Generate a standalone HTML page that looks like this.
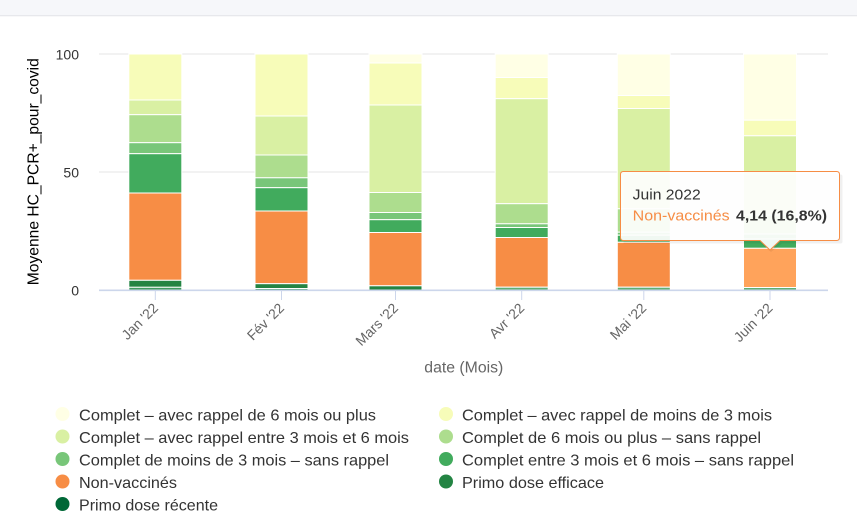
<!DOCTYPE html>
<html><head><meta charset="utf-8"><style>
html,body{margin:0;padding:0;background:#fff;}
svg{display:block;}
text{font-family:"Liberation Sans",sans-serif;}
</style></head><body>
<svg width="857" height="527" viewBox="0 0 857 527" xmlns="http://www.w3.org/2000/svg">
<rect x="0" y="0" width="857" height="527" fill="#fff"/>
<rect x="0" y="0" width="857" height="15.5" fill="#f6f7fa"/>
<line x1="0" y1="15.8" x2="857" y2="15.8" stroke="#e2e4e8" stroke-width="1"/>

<!-- grid -->
<line x1="99" y1="54" x2="828" y2="54" stroke="#e6e6e6" stroke-width="1"/>
<line x1="99" y1="172" x2="828" y2="172" stroke="#e6e6e6" stroke-width="1"/>

<!-- y labels -->
<text x="79" y="59.5" font-size="14" fill="#333" text-anchor="end">100</text>
<text x="79" y="177.5" font-size="14" fill="#333" text-anchor="end">50</text>
<text x="79" y="295.5" font-size="14" fill="#333" text-anchor="end">0</text>
<text transform="translate(38.5,171.7) rotate(-90)" font-size="16" fill="#000" text-anchor="middle" textLength="227" lengthAdjust="spacingAndGlyphs">Moyenne HC_PCR+_pour_covid</text>

<g stroke="#fff" stroke-width="1">
<!-- Jan -->
<rect x="128.8" y="54" width="53" height="46" fill="#f7fcb9"/>
<rect x="128.8" y="100" width="53" height="14.7" fill="#d9f0a3"/>
<rect x="128.8" y="114.7" width="53" height="28" fill="#addd8e"/>
<rect x="128.8" y="142.7" width="53" height="11" fill="#78c679"/>
<rect x="128.8" y="153.7" width="53" height="39.3" fill="#41ab5d"/>
<rect x="128.8" y="193" width="53" height="87.3" fill="#f78d45"/>
<rect x="128.8" y="280.3" width="53" height="7" fill="#238443"/>
<rect x="128.8" y="287.3" width="53" height="2.7" fill="#3f9a60"/>
<!-- Fev -->
<rect x="255" y="54" width="53" height="62" fill="#f7fcb9"/>
<rect x="255" y="116" width="53" height="39" fill="#d9f0a3"/>
<rect x="255" y="155" width="53" height="22.8" fill="#addd8e"/>
<rect x="255" y="177.8" width="53" height="9.9" fill="#78c679"/>
<rect x="255" y="187.7" width="53" height="23.3" fill="#41ab5d"/>
<rect x="255" y="211" width="53" height="72.7" fill="#f78d45"/>
<rect x="255" y="283.7" width="53" height="4.8" fill="#238443"/>
<rect x="255" y="288.5" width="53" height="1.5" fill="#3f9a60"/>
<!-- Mars -->
<rect x="369" y="54" width="53" height="9" fill="#ffffe5"/>
<rect x="369" y="63" width="53" height="42" fill="#f7fcb9"/>
<rect x="369" y="105" width="53" height="87.5" fill="#d9f0a3"/>
<rect x="369" y="192.5" width="53" height="20" fill="#addd8e"/>
<rect x="369" y="212.5" width="53" height="7.2" fill="#78c679"/>
<rect x="369" y="219.7" width="53" height="12.8" fill="#41ab5d"/>
<rect x="369" y="232.5" width="53" height="53.3" fill="#f78d45"/>
<rect x="369" y="285.8" width="53" height="4.2" fill="#238443"/>
<!-- Avr -->
<rect x="495.2" y="54" width="53" height="23.5" fill="#ffffe5"/>
<rect x="495.2" y="77.5" width="53" height="21.2" fill="#f7fcb9"/>
<rect x="495.2" y="98.7" width="53" height="105" fill="#d9f0a3"/>
<rect x="495.2" y="203.7" width="53" height="20.1" fill="#addd8e"/>
<rect x="495.2" y="223.8" width="53" height="3.7" fill="#78c679"/>
<rect x="495.2" y="227.5" width="53" height="10" fill="#41ab5d"/>
<rect x="495.2" y="237.5" width="53" height="49.7" fill="#f78d45"/>
<rect x="495.2" y="287.2" width="53" height="2.8" fill="#5fae76"/>
<!-- Mai -->
<rect x="617.3" y="54" width="53" height="41.5" fill="#ffffe5"/>
<rect x="617.3" y="95.5" width="53" height="13" fill="#f7fcb9"/>
<rect x="617.3" y="108.5" width="53" height="100.3" fill="#d9f0a3"/>
<rect x="617.3" y="208.8" width="53" height="23.4" fill="#addd8e"/>
<rect x="617.3" y="232.2" width="53" height="3" fill="#78c679"/>
<rect x="617.3" y="235.2" width="53" height="7.1" fill="#41ab5d"/>
<rect x="617.3" y="242.3" width="53" height="44.9" fill="#f78d45"/>
<rect x="617.3" y="287.2" width="53" height="2.8" fill="#5fae76"/>
<!-- Juin -->
<rect x="743.5" y="54" width="53" height="66.2" fill="#ffffe5"/>
<rect x="743.5" y="120.2" width="53" height="15.6" fill="#f7fcb9"/>
<rect x="743.5" y="135.8" width="53" height="79.2" fill="#d9f0a3"/>
<rect x="743.5" y="215" width="53" height="19" fill="#addd8e"/>
<rect x="743.5" y="234" width="53" height="5" fill="#78c679"/>
<rect x="743.5" y="239" width="53" height="9.3" fill="#41ab5d"/>
<rect x="743.5" y="248.3" width="53" height="39.2" fill="#ffa35b"/>
<rect x="743.5" y="287.5" width="53" height="2.5" fill="#5fae76"/>
</g>

<!-- x axis -->
<line x1="99" y1="290.3" x2="828" y2="290.3" stroke="#ccd6eb" stroke-width="1.6"/>
<g stroke="#ccd6eb" stroke-width="1">
<line x1="155.3" y1="290" x2="155.3" y2="300"/>
<line x1="281.5" y1="290" x2="281.5" y2="300"/>
<line x1="395.5" y1="290" x2="395.5" y2="300"/>
<line x1="521.7" y1="290" x2="521.7" y2="300"/>
<line x1="643.8" y1="290" x2="643.8" y2="300"/>
<line x1="770" y1="290" x2="770" y2="300"/>
</g>
<g font-size="14" fill="#666" text-anchor="end">
<text transform="translate(159,309) rotate(-45)">Jan '22</text>
<text transform="translate(285,309) rotate(-45)">Fév '22</text>
<text transform="translate(399,309) rotate(-45)">Mars '22</text>
<text transform="translate(525.2,309) rotate(-45)">Avr '22</text>
<text transform="translate(647.3,309) rotate(-45)">Mai '22</text>
<text transform="translate(773.5,309) rotate(-45)">Juin '22</text>
</g>
<text x="424.3" y="372.5" font-size="15.5" fill="#666" textLength="79" lengthAdjust="spacingAndGlyphs">date (Mois)</text>

<!-- tooltip -->
<g>
<path d="M623.5 174.5 H840.5 Q842.5 174.5 842.5 176.5 V241.5 Q842.5 243.5 840.5 243.5 H782 L771 252 L761 243.5 H623.5 Z" fill="rgba(0,0,0,0.06)"/>
<path d="M623.5 171.5 H836.5 Q839.5 171.5 839.5 174.5 V237.5 Q839.5 240.5 836.5 240.5 H780 L770 250 L760 240.5 H623.5 Q620.5 240.5 620.5 237.5 V174.5 Q620.5 171.5 623.5 171.5 Z" fill="rgba(255,255,255,0.92)" stroke="#f68d45" stroke-width="1"/>
<text x="632.7" y="199.3" font-size="15" fill="#333" textLength="68" lengthAdjust="spacingAndGlyphs">Juin 2022</text>
<text x="632.7" y="220.7" font-size="15" fill="#f68d45" textLength="97" lengthAdjust="spacingAndGlyphs">Non-vaccinés</text>
<text x="736" y="220.7" font-size="15" font-weight="bold" fill="#333" textLength="91" lengthAdjust="spacingAndGlyphs">4,14 (16,8%)</text>
</g>

<!-- legend -->
<g>
<circle cx="62.5" cy="414" r="7" fill="#ffffe5"/>
<circle cx="62.5" cy="436.5" r="7" fill="#d9f0a3"/>
<circle cx="62.5" cy="459" r="7" fill="#78c679"/>
<circle cx="62.5" cy="481.5" r="7" fill="#f78d45"/>
<circle cx="62.5" cy="504" r="7" fill="#006837"/>
<circle cx="446" cy="414" r="7" fill="#f7fcb9"/>
<circle cx="446" cy="436.5" r="7" fill="#addd8e"/>
<circle cx="446" cy="459" r="7" fill="#41ab5d"/>
<circle cx="446" cy="481.5" r="7" fill="#238443"/>
</g>
<g font-size="16" fill="#333">
<text x="79" y="420.5" textLength="297" lengthAdjust="spacingAndGlyphs">Complet – avec rappel de 6 mois ou plus</text>
<text x="79" y="443" textLength="330" lengthAdjust="spacingAndGlyphs">Complet – avec rappel entre 3 mois et 6 mois</text>
<text x="79" y="465.5" textLength="310" lengthAdjust="spacingAndGlyphs">Complet de moins de 3 mois – sans rappel</text>
<text x="79" y="488" textLength="98" lengthAdjust="spacingAndGlyphs">Non-vaccinés</text>
<text x="79" y="510.5" textLength="139" lengthAdjust="spacingAndGlyphs">Primo dose récente</text>
<text x="462" y="420.5" textLength="310" lengthAdjust="spacingAndGlyphs">Complet – avec rappel de moins de 3 mois</text>
<text x="462" y="443" textLength="299" lengthAdjust="spacingAndGlyphs">Complet de 6 mois ou plus – sans rappel</text>
<text x="462" y="465.5" textLength="332" lengthAdjust="spacingAndGlyphs">Complet entre 3 mois et 6 mois – sans rappel</text>
<text x="462" y="488" textLength="142" lengthAdjust="spacingAndGlyphs">Primo dose efficace</text>
</g>
</svg>
</body></html>
